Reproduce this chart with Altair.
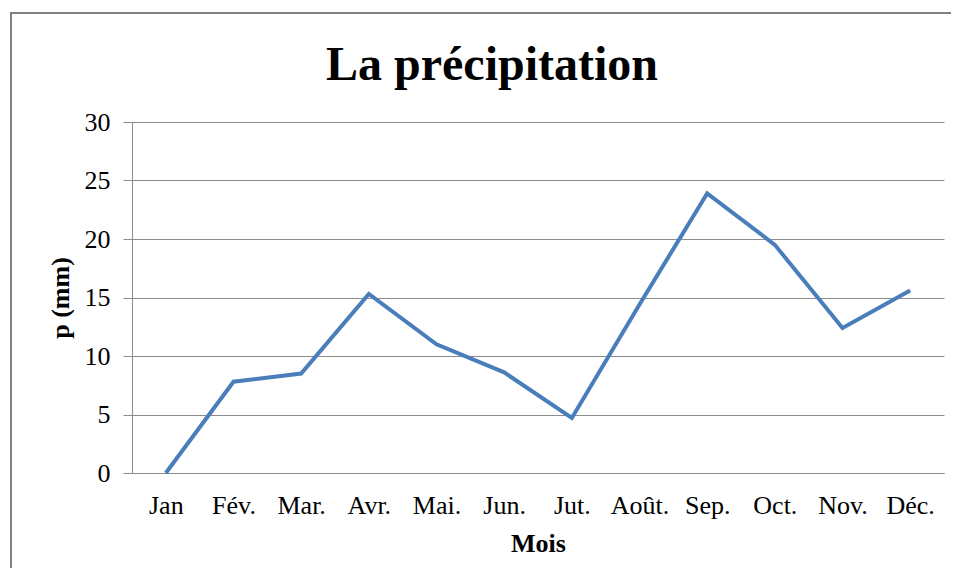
import altair as alt
import pandas as pd

months = ["Jan", "Fév.", "Mar.", "Avr.", "Mai.", "Jun.", "Jut.", "Août.", "Sep.", "Oct.", "Nov.", "Déc."]
precip = [0.0, 7.8, 8.5, 15.3, 11.0, 8.6, 4.7, 14.4, 23.9, 19.5, 12.4, 15.6]

df = pd.DataFrame({"Mois": months, "p": precip})

FONT = "Liberation Serif"
GRAY = "#8c8c8c"

line = alt.Chart(df).mark_line(color="#4a7ebb", strokeWidth=4).encode(
    x=alt.X("Mois:O", sort=months,
            axis=alt.Axis(title="Mois", labelAngle=0, tickSize=0, labelPadding=19,
                          labelFontSize=26, titleFontSize=26, titleFontWeight="bold",
                          titlePadding=12, domainColor=GRAY, grid=False)),
    y=alt.Y("p:Q", scale=alt.Scale(domain=[0, 30]),
            axis=alt.Axis(title="p (mm)", values=[0, 5, 10, 15, 20, 25, 30], tickSize=9,
                          tickColor=GRAY, domainColor=GRAY, gridColor=GRAY,
                          labelFontSize=26, labelPadding=13, titleFontSize=26,
                          titleFontWeight="bold", titlePadding=11)),
)

frame = alt.Chart(pd.DataFrame({"a": [0]})).mark_rect(
    fill=None, stroke="#808080", strokeWidth=2
).encode(
    x=alt.value(-121), x2=alt.value(900), y=alt.value(-109), y2=alt.value(600)
)

chart = alt.layer(frame, line).properties(
    width=812, height=351,
    title=alt.TitleParams("La précipitation", fontSize=48, font=FONT, fontWeight="bold",
                          anchor="middle", frame="group", dx=-46, offset=-78, color="black"),
    padding={"left": 124, "top": 114, "right": 7, "bottom": 95},
    autosize=alt.AutoSizeParams(type="none"),
).configure(font=FONT).configure_axis(
    labelFont=FONT, titleFont=FONT, labelColor="black", titleColor="black"
).configure_view(stroke=None)

chart.save("out.html", embed_options={"renderer": "svg", "actions": False})
